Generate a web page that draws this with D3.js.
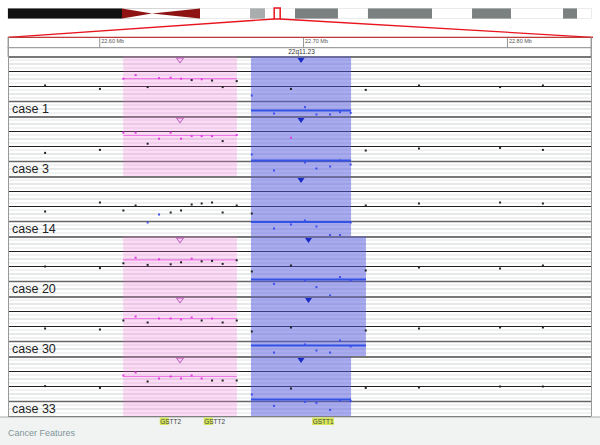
<!DOCTYPE html>
<meta charset="utf-8">
<style>
body { margin: 0; background: #fff; }
svg { display: block; font-family: Arial, "Liberation Sans", sans-serif; }
</style>
<body>
<script src="https://d3js.org/d3.v7.min.js"></script>
<script>

var width = 600, height = 445;

// view window (Mb) and chromosome length used by the ideogram
var viewStart = 22.555, viewEnd = 22.841, chrLength = 49.4;
var rulerTicks = [22.60, 22.70, 22.80];
var cytobandName = "22q11.23";

// ideogram bands: start, end (Mb), stain
var ideoBands = [
  [0, 9.66, "gvar"], [9.66, 12.2, "acenL"], [12.2, 16.27, "acenR"],
  [16.27, 20.51, "gneg"], [20.51, 21.78, "gpos25"], [21.78, 24.32, "gneg"],
  [24.32, 27.96, "gpos50"], [27.96, 30.5, "gneg"], [30.5, 35.93, "gpos50"],
  [35.93, 39.32, "gneg"], [39.32, 42.62, "gpos50"], [42.62, 47.03, "gneg"],
  [47.03, 48.22, "gpos50"], [48.22, 49.4, "gneg"]
];

// probe positions (Mb)
var probes = [22.5732, 22.6001, 22.6116, 22.6176, 22.6235, 22.6291, 22.6348,
  22.6399, 22.6451, 22.6500, 22.6551, 22.6603, 22.6672, 22.6746, 22.6855,
  22.6938, 22.7007, 22.7063, 22.7130, 22.7179, 22.7231, 22.7305, 22.7566,
  22.7964, 22.8174];

var caseNames = ["case 1", "case 3", "case 14", "case 20", "case 30", "case 33"];

// log2 ratios per probe
var case1  = [0.05, -0.12, 0.39, 0.57, -0.03, 0.42, 0.44, 0.39, 0.32, 0.36, 0.30, -0.03, 0.27,
              -0.45, -1.35, -0.12, -1.03, -1.40, -1.40, -1.28, -1.32, -0.17, 0.05, -0.03, 0.05];
var case3  = [-0.32, -0.17, 0.69, 0.69, 0.14, 0.39, 0.69, 0.39, 0.52, 0.52, 0.52, 0.27, 0.57,
              -0.40, -1.20, 0.44, -0.80, -1.10, -1.00, -0.70, -0.90, -0.20, -0.10, -0.07, -0.17];
var case14 = [-0.25, 0.20, -0.20, 0.05, -0.80, -0.40, -0.30, -0.20, 0.10, 0.15, 0.20, -0.30, 0.05,
              -0.35, -1.10, -0.90, -0.70, -1.00, -1.43, -1.43, -0.80, 0.05, 0.15, 0.20, 0.15];
var case20 = [0.00, -0.08, 0.16, 0.44, 0.08, 0.36, 0.11, 0.21, 0.39, 0.26, 0.28, 0.13, 0.31,
              -0.25, -0.87, 0.05, -0.70, -1.03, -1.45, -0.53, -0.70, -0.20, -0.05, -0.10, 0.05];
var case30 = [-0.10, -0.15, 0.30, 0.50, 0.20, 0.40, 0.40, 0.35, 0.45, 0.30, 0.40, 0.20, 0.30,
              -0.25, -1.30, -0.05, -0.90, -1.20, -1.30, -0.70, -1.00, -0.20, -0.10, -0.05, -0.05];
var case33 = [0.02, -0.07, 0.55, 0.70, 0.25, 0.40, 0.50, 0.40, 0.55, 0.40, 0.30, 0.30, 0.30,
              -0.40, -0.97, -0.10, -0.77, -0.82, -1.17, -0.70, -0.73, -0.07, -0.05, 0.00, 0.00];
var caseValues = [case1, case3, case14, case20, case30, case33];

// gained / lost segments per case: [start, end, mean]
var gainSegments = [[22.6115, 22.6673, 0.39], [22.6115, 22.6673, 0.55], null,
                    [22.6115, 22.6673, 0.33], [22.6115, 22.6673, 0.40], [22.6115, 22.6673, 0.50]];
var lossSegments = [[22.6742, 22.7233, -1.20], [22.6742, 22.7233, -0.70], [22.6742, 22.7233, -0.78],
                    [22.6742, 22.7306, -0.65], [22.6742, 22.7306, -0.95], [22.6742, 22.7233, -0.65]];

var gainCut = 0.33, lossCut = -0.35;

// feature track genes: name, position (Mb), matched prefix length
var geneNames = ["GSTT2", "GSTT2", "GSTT1"];
var genePos = [22.6348, 22.6564, 22.7096];
var geneMatch = [2, 2, 5];

var left = 8, right = 591;
var trackTop = 56.5, caseH = 60;

var svg = d3.select("body").append("svg")
    .attr("width", width)
    .attr("height", height);

var x = d3.scaleLinear().domain([viewStart, viewEnd]).range([left, right]);
var chrX = d3.scaleLinear().domain([0, chrLength]).range([left, right]);
var y = d3.scaleLinear().domain([1.5, -1.5]).range([0, caseH]);

// ---- ideogram ----
var ideoY = 8.5, ideoH = 10;
var bandFill = {gvar: "#111", gneg: "#fff", gpos25: "#a9adad", gpos50: "#7b8181"};
var ideo = svg.append("g");

ideo.append("rect")
    .attr("x", left).attr("y", ideoY)
    .attr("width", right - left).attr("height", ideoH)
    .attr("fill", "#fff").attr("stroke", "#ccc").attr("stroke-width", 0.8);

ideoBands.forEach(function(b) {
  var x0 = chrX(b[0]), x1 = chrX(b[1]);
  if (b[2] === "acenL") {
    ideo.append("path")
        .attr("d", "M" + x0 + "," + ideoY + "L" + x1 + "," + (ideoY + ideoH / 2) + "L" + x0 + "," + (ideoY + ideoH) + "Z")
        .attr("fill", "#8e1313");
  } else if (b[2] === "acenR") {
    ideo.append("path")
        .attr("d", "M" + x1 + "," + ideoY + "L" + x0 + "," + (ideoY + ideoH / 2) + "L" + x1 + "," + (ideoY + ideoH) + "Z")
        .attr("fill", "#8e1313");
  } else {
    ideo.append("rect")
        .attr("x", x0).attr("y", ideoY)
        .attr("width", x1 - x0).attr("height", ideoH)
        .attr("fill", bandFill[b[2]]);
  }
});

// current view box and zoom lines
var boxX0 = chrX(viewStart), boxX1 = Math.max(chrX(viewEnd), boxX0 + 6);
var rulerTop = 37.3, rulerH = 10.5;

ideo.append("rect")
    .attr("x", boxX0).attr("y", ideoY - 0.5)
    .attr("width", boxX1 - boxX0).attr("height", ideoH + 1)
    .attr("fill", "none").attr("stroke", "#e8141e").attr("stroke-width", 1.5);

ideo.append("line")
    .attr("x1", boxX0).attr("y1", ideoY + ideoH + 0.5)
    .attr("x2", left).attr("y2", rulerTop)
    .attr("stroke", "#e8141e").attr("stroke-width", 1.3);
ideo.append("line")
    .attr("x1", boxX1).attr("y1", ideoY + ideoH + 0.5)
    .attr("x2", right + 2).attr("y2", rulerTop)
    .attr("stroke", "#e8141e").attr("stroke-width", 1.3);

// ---- ruler ----
var ruler = svg.append("g");
ruler.append("rect")
    .attr("x", left).attr("y", rulerTop)
    .attr("width", right - left).attr("height", rulerH)
    .attr("fill", "#fff").attr("stroke", "#888").attr("stroke-width", 0.8);
ruler.append("line")
    .attr("x1", left).attr("x2", right + 2)
    .attr("y1", rulerTop).attr("y2", rulerTop)
    .attr("stroke", "#c82020").attr("stroke-width", 1);

ruler.selectAll(".tick").data(rulerTicks).enter().append("line")
    .attr("x1", function(d) { return x(d); })
    .attr("x2", function(d) { return x(d); })
    .attr("y1", rulerTop).attr("y2", rulerTop + rulerH)
    .attr("stroke", "#777").attr("stroke-width", 0.8);

ruler.selectAll(".lbl").data(rulerTicks).enter().append("text")
    .attr("x", function(d) { return x(d) + 1.5; })
    .attr("y", rulerTop + 6)
    .attr("font-size", 5.5)
    .attr("fill", "#555")
    .text(function(d) { return d3.format(".2f")(d) + " Mb"; });

var bandTop = rulerTop + rulerH;
ruler.append("rect")
    .attr("x", left).attr("y", bandTop)
    .attr("width", right - left).attr("height", trackTop - bandTop)
    .attr("fill", "#fff").attr("stroke", "#888").attr("stroke-width", 0.8);
ruler.append("text")
    .attr("x", x((viewStart + viewEnd) / 2) + 2)
    .attr("y", bandTop + 6.5)
    .attr("text-anchor", "middle")
    .attr("font-size", 6.5)
    .attr("fill", "#333")
    .text(cytobandName);

// ---- case tracks ----
var tracks = svg.append("g");

caseNames.forEach(function(name, i) {
  var top = trackTop + i * caseH;
  var g = tracks.append("g").attr("transform", "translate(0," + top + ")");

  // faint grid lines inside each sub-band
  [0, 15, 30, 45].forEach(function(o) {
    [3.5, 7.5, 11.5].forEach(function(s, k) {
      g.append("line")
          .attr("x1", left).attr("x2", right)
          .attr("y1", o + s).attr("y2", o + s)
          .attr("stroke", k === 1 ? "#cfd3d3" : "#e2e4e4").attr("stroke-width", 1);
    });
  });

  // main rules
  g.append("line").attr("x1", left).attr("x2", right).attr("y1", 0.5).attr("y2", 0.5)
      .attr("stroke", "#777").attr("stroke-width", 2);
  g.append("line").attr("x1", left).attr("x2", right).attr("y1", 15).attr("y2", 15)
      .attr("stroke", "#222").attr("stroke-width", 1.1);
  g.append("line").attr("x1", left).attr("x2", right).attr("y1", y(0)).attr("y2", y(0))
      .attr("stroke", "#222").attr("stroke-width", 1.1);
  g.append("line").attr("x1", left).attr("x2", right).attr("y1", 45).attr("y2", 45)
      .attr("stroke", "#666").attr("stroke-width", 1.4);

  // regions
  var gs = gainSegments[i], ls = lossSegments[i];
  if (gs) {
    g.append("rect")
        .attr("x", x(gs[0])).attr("y", 0)
        .attr("width", x(gs[1]) - x(gs[0])).attr("height", caseH)
        .attr("fill", "#f070d8").attr("fill-opacity", 0.25);
  }
  g.append("rect")
      .attr("x", x(ls[0])).attr("y", 0)
      .attr("width", x(ls[1]) - x(ls[0])).attr("height", caseH)
      .attr("fill", "#5358e0").attr("fill-opacity", 0.5);

  // segment means
  if (gs) {
    g.append("line")
        .attr("x1", x(gs[0])).attr("x2", x(gs[1]))
        .attr("y1", y(gs[2])).attr("y2", y(gs[2]))
        .attr("stroke", "#ee7ae6").attr("stroke-width", 1.2);
    var cx = (x(gs[0]) + x(gs[1])) / 2;
    g.append("path")
        .attr("d", "M" + (cx - 3.5) + ",1.5L" + (cx + 3.5) + ",1.5L" + cx + ",6.5Z")
        .attr("fill", "#f6c8f2").attr("stroke", "#b455b4").attr("stroke-width", 0.9);
  }
  g.append("line")
      .attr("x1", x(ls[0])).attr("x2", x(ls[1]))
      .attr("y1", y(ls[2])).attr("y2", y(ls[2]))
      .attr("stroke", "#3352e6").attr("stroke-width", 2);
  var bx = (x(ls[0]) + x(ls[1])) / 2;
  g.append("path")
      .attr("d", "M" + (bx - 3.5) + ",1.5L" + (bx + 3.5) + ",1.5L" + bx + ",6.5Z")
      .attr("fill", "#1b2bc8");

  // probe values
  g.selectAll(".pt").data(caseValues[i]).enter().append("rect")
      .attr("x", function(d, j) { return x(probes[j]) - 1; })
      .attr("y", function(d) { return y(d) - 1; })
      .attr("width", 2).attr("height", 2)
      .attr("fill", function(d) {
        return d > gainCut ? "#e03ce0" : d < lossCut ? "#3f4fe8" : "#222";
      });

  g.append("text")
      .attr("x", 12).attr("y", 56)
      .attr("font-size", 12.5)
      .attr("fill", "#222")
      .text(name);
});

var tracksBottom = trackTop + caseNames.length * caseH;
tracks.append("line").attr("x1", left).attr("x2", right)
    .attr("y1", tracksBottom).attr("y2", tracksBottom)
    .attr("stroke", "#555").attr("stroke-width", 1);

// side borders
[left + 0.5, right + 0.5].forEach(function(bxp) {
  svg.append("line")
      .attr("x1", bxp).attr("x2", bxp)
      .attr("y1", rulerTop).attr("y2", tracksBottom)
      .attr("stroke", "#999").attr("stroke-width", 1);
});

// ---- feature track ----
var feat = svg.append("g");
feat.append("rect")
    .attr("x", 0).attr("y", tracksBottom + 0.5)
    .attr("width", width).attr("height", height - tracksBottom)
    .attr("fill", "#f1f3f3");
feat.append("line").attr("x1", 0).attr("x2", width)
    .attr("y1", tracksBottom + 0.5).attr("y2", tracksBottom + 0.5)
    .attr("stroke", "#aaa").attr("stroke-width", 1);
feat.append("text")
    .attr("x", 8).attr("y", tracksBottom + 19)
    .attr("font-size", 9)
    .attr("fill", "#7f9499")
    .text("Cancer Features");

geneNames.forEach(function(gname, i) {
  var t = feat.append("text")
      .attr("x", x(genePos[i]))
      .attr("y", tracksBottom + 7)
      .attr("text-anchor", "middle")
      .attr("font-size", 6.5)
      .attr("fill", "#444")
      .text(gname);
  var bb = t.node().getBBox();
  var frac = geneMatch[i] / gname.length;
  feat.insert("rect", "text")
      .attr("x", bb.x - 0.5).attr("y", tracksBottom + 1)
      .attr("width", bb.width * frac + 0.5).attr("height", 7.5)
      .attr("fill", "#d6e85a");
});

</script>
